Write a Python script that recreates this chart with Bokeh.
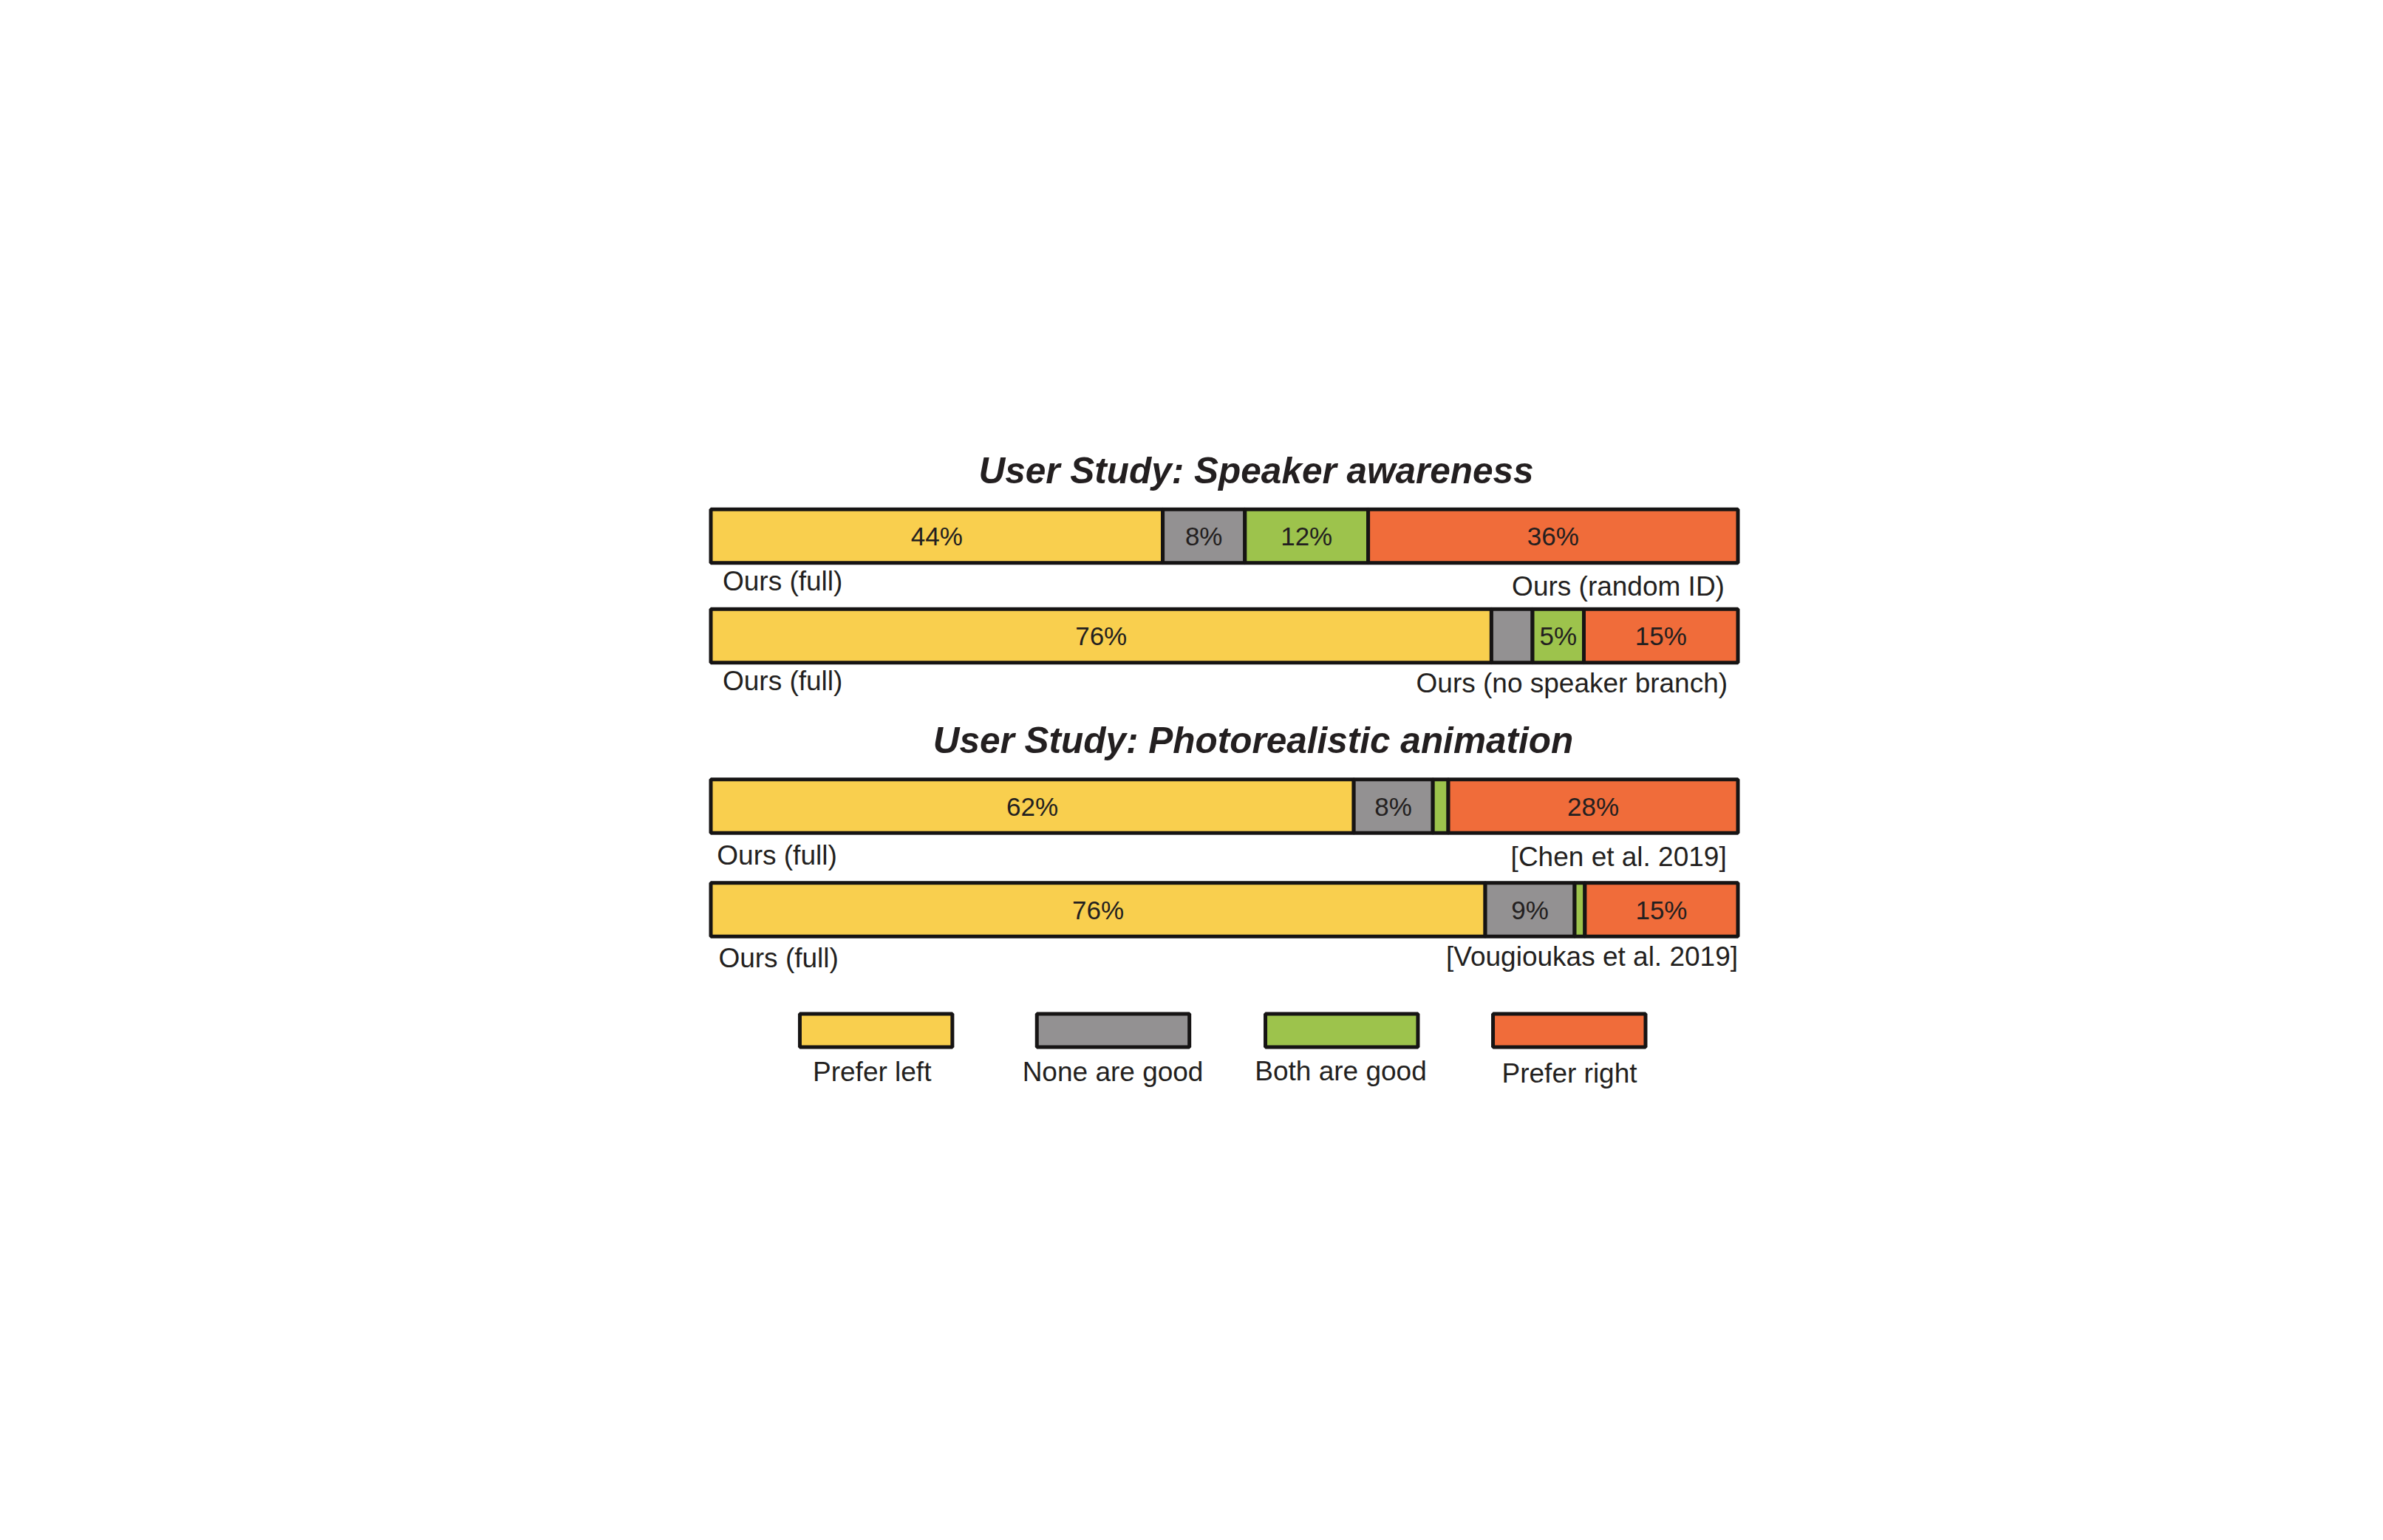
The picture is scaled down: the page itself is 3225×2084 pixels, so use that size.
from bokeh.plotting import figure
from bokeh.models import Range1d, ColumnDataSource
from bokeh.embed import file_html
from bokeh.resources import INLINE
from bokeh.core.properties import value

# ---------------- data ----------------
categories = ["Prefer left", "None are good", "Both are good", "Prefer right"]
colors = ["#F9CF4E", "#939192", "#9DC34C", "#F06C3A"]

titles = ["User Study: Speaker awareness", "User Study: Photorealistic animation"]
left_names = ["Ours (full)", "Ours (full)", "Ours (full)", "Ours (full)"]
right_names = ["Ours (random ID)", "Ours (no speaker branch)",
               "[Chen et al. 2019]", "[Vougioukas et al. 2019]"]

# share of votes (%) per comparison
prefer_left = [44, 76, 62.6, 75.4]
none_good = [8, 4, 7.7, 8.7]
both_good = [12, 5, 1.5, 1.0]
prefer_right = [36, 15, 28.2, 14.9]
shown_labels = [["44%", "8%", "12%", "36%"],
                ["76%", "", "5%", "15%"],
                ["62%", "8%", "", "28%"],
                ["76%", "9%", "", "15%"]]

# ---------------- layout ----------------
W, H = 3200, 2060
PX_PER_PCT = 13.9
X0_PAGE = 969.5
x_start = -(X0_PAGE - 8) / PX_PER_PCT
FONT = value("Liberation Sans")
TXT = "#231F20"
EDGE = "#161414"
LW = 5

row_y = [725, 860, 1090.5, 1230.5]
bar_h = 72.7
left_lab_y = [786, 921, 1156.5, 1296]
right_lab_y = [793, 924, 1159, 1294]
left_lab_x = [1.15, 1.15, 0.6, 0.75]
right_lab_x = [98.7, 99.0, 98.9, 100.0]
title_y = [636, 1001]
title_x = [53.1, 52.8]

leg_x = [16.09, 39.17, 61.42, 83.58]
leg_w = 14.85
leg_y = 1394
leg_h = 45
leg_lab_x = [15.7, 39.14, 61.33, 83.6]
leg_lab_y = [1449.5, 1449.5, 1449, 1452]

p = figure(width=W, height=H, x_range=Range1d(x_start, x_start + W / PX_PER_PCT),
           y_range=Range1d(H, 0), output_backend="svg", toolbar_location=None,
           x_axis_location=None, y_axis_location=None, min_border=0)
p.grid.visible = False
p.outline_line_color = None
p.background_fill_color = "white"
p.border_fill_color = "white"

series = [prefer_left, none_good, both_good, prefer_right]
L, R, T, B, C = [], [], [], [], []
tx, ty, tt = [], [], []
for r in range(4):
    vals = [s[r] for s in series]
    total = float(sum(vals))
    acc = 0.0
    for k, v in enumerate(vals):
        a = acc / total * 100
        acc += v
        b = acc / total * 100
        L.append(a); R.append(b)
        T.append(row_y[r] - bar_h / 2); B.append(row_y[r] + bar_h / 2)
        C.append(colors[k])
        if shown_labels[r][k]:
            tx.append((a + b) / 2); ty.append(row_y[r]); tt.append(shown_labels[r][k])

p.quad(left="l", right="r", top="t", bottom="b", fill_color="c",
       line_color=EDGE, line_width=LW,
       source=ColumnDataSource(dict(l=L, r=R, t=T, b=B, c=C)))

p.text(x=tx, y=ty, text=tt, text_font=FONT, text_font_size="35px",
       text_align="center", text_baseline="middle", text_color=TXT)

p.text(x=left_lab_x, y=left_lab_y, text=left_names, text_font=FONT,
       text_font_size="37px", text_align="left", text_baseline="middle", text_color=TXT)
p.text(x=right_lab_x, y=right_lab_y, text=right_names, text_font=FONT,
       text_font_size="37px", text_align="right", text_baseline="middle", text_color=TXT)

p.text(x=title_x, y=title_y, text=titles, text_font=FONT,
       text_font_size="49.5px", text_font_style="bold italic",
       text_align="center", text_baseline="middle", text_color=TXT)

# legend
p.quad(left=[x - leg_w / 2 for x in leg_x], right=[x + leg_w / 2 for x in leg_x],
       top=[leg_y - leg_h / 2] * 4, bottom=[leg_y + leg_h / 2] * 4,
       fill_color=colors, line_color=EDGE, line_width=LW)
p.text(x=leg_lab_x, y=leg_lab_y, text=categories, text_font=FONT,
       text_font_size="37px", text_align="center", text_baseline="middle", text_color=TXT)

open("out.html", "w").write(file_html(p, INLINE))
